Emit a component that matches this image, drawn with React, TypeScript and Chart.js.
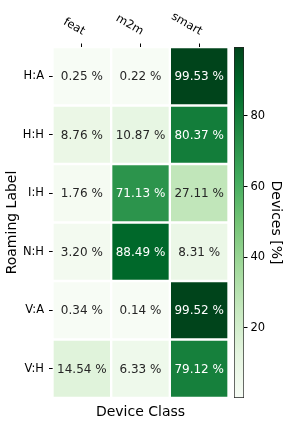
import { useEffect, useRef } from "react";
import { Chart, registerables } from "chart.js";

Chart.register(...registerables);

const rowLabels = ["H:A", "H:H", "I:H", "N:H", "V:A", "V:H"];
const colLabels = ["feat", "m2m", "smart"];
const featValues = [0.25, 8.76, 1.76, 3.2, 0.34, 14.54];
const m2mValues = [0.22, 10.87, 71.13, 88.49, 0.14, 6.33];
const smartValues = [99.53, 80.37, 27.11, 8.31, 99.52, 79.12];
const colorbarTicks = [20, 40, 60, 80];
const xTitle = "Device Class";
const yTitle = "Roaming Label";
const cbarTitle = "Devices [%]";

const columns = [featValues, m2mValues, smartValues];
const allValues = columns.flat();
const vmin = Math.min(...allValues);
const vmax = Math.max(...allValues);

const FONT = "'DejaVu Sans', sans-serif";
const GREENS = [
  [247, 252, 245],
  [229, 245, 224],
  [199, 233, 192],
  [161, 217, 155],
  [116, 196, 118],
  [65, 171, 93],
  [35, 139, 69],
  [0, 109, 44],
  [0, 68, 27],
];

function greensRGB(t: number): number[] {
  const c = Math.max(0, Math.min(1, t)) * (GREENS.length - 1);
  const i = Math.min(Math.floor(c), GREENS.length - 2);
  const f = c - i;
  return GREENS[i].map((a, k) => a + (GREENS[i + 1][k] - a) * f);
}
function colorFor(v: number): string {
  const [r, g, b] = greensRGB((v - vmin) / (vmax - vmin));
  return `rgb(${Math.round(r)},${Math.round(g)},${Math.round(b)})`;
}
function luminance(v: number): number {
  const rgb = greensRGB((v - vmin) / (vmax - vmin)).map((x) => {
    const c = x / 255;
    return c <= 0.03928 ? c / 12.92 : Math.pow((c + 0.055) / 1.055, 2.4);
  });
  return 0.2126 * rgb[0] + 0.7152 * rgb[1] + 0.0722 * rgb[2];
}

const cellTextPlugin = {
  id: "cellText",
  afterDatasetsDraw(chart: any) {
    const ctx = chart.ctx;
    ctx.save();
    ctx.font = `12px ${FONT}`;
    ctx.textAlign = "center";
    ctx.textBaseline = "middle";
    chart.data.datasets.forEach((ds: any, j: number) => {
      const meta = chart.getDatasetMeta(j);
      meta.data.forEach((el: any, i: number) => {
        const v = columns[j][i];
        const p = el.getCenterPoint();
        ctx.fillStyle = luminance(v) > 0.408 ? "#262626" : "#ffffff";
        ctx.fillText(`${v.toFixed(2)} %`, p.x, p.y + 1);
      });
    });
    ctx.restore();
  },
};

const topLabelsPlugin = {
  id: "topLabels",
  afterDraw(chart: any) {
    const xs = chart.scales.x;
    const ctx = chart.ctx;
    ctx.save();
    ctx.font = `11.5px ${FONT}`;
    ctx.fillStyle = "#000";
    ctx.textAlign = "right";
    ctx.textBaseline = "middle";
    colLabels.forEach((lab, i) => {
      const px = xs.getPixelForValue(i + 0.5);
      ctx.save();
      ctx.translate(px + 2, 32.5);
      ctx.rotate(Math.PI / 6);
      ctx.fillText(lab, 0, 0);
      ctx.restore();
    });
    ctx.restore();
  },
};

export default function App() {
  const heatRef = useRef<HTMLCanvasElement>(null);
  const cbarRef = useRef<HTMLCanvasElement>(null);

  useEffect(() => {
    const heat = new Chart(heatRef.current as HTMLCanvasElement, {
      type: "bar",
      data: {
        labels: rowLabels,
        datasets: columns.map((vals, j) => ({
          label: colLabels[j],
          data: vals.map(() => [j, j + 1]),
          backgroundColor: vals.map((v) => colorFor(v)),
          borderColor: "#ffffff",
          borderWidth: 1.5,
          borderSkipped: false,
          grouped: false,
          barPercentage: 1,
          categoryPercentage: 1,
        })) as any,
      },
      options: {
        indexAxis: "y",
        responsive: false,
        animation: false,
        events: [],
        layout: { padding: { left: 0, right: 3.5, top: 0, bottom: 0 } },
        plugins: {
          legend: { display: false },
          tooltip: { enabled: false },
        },
        scales: {
          x: {
            type: "linear",
            position: "top",
            min: 0,
            max: 3,
            afterBuildTicks: (s: any) => {
              s.ticks = colLabels.map((_, i) => ({ value: i + 0.5 }));
            },
            afterFit: (s: any) => {
              s.height = 47;
            },
            ticks: { display: false },
            grid: { drawOnChartArea: false, drawTicks: true, tickLength: 3.5, color: "#000", lineWidth: 1 },
            border: { display: false },
          },
          xTitleAxis: {
            type: "linear",
            axis: "x",
            position: "bottom",
            min: 0,
            max: 3,
            afterFit: (s: any) => {
              s.height = 34;
            },
            ticks: { display: false },
            grid: { display: false },
            border: { display: false },
            title: {
              display: true,
              text: xTitle,
              color: "#000",
              font: { family: FONT, size: 14 },
              padding: { top: 0, bottom: 11.6 },
            },
          },
          y: {
            type: "category",
            position: "left",
            afterFit: (s: any) => {
              s.width = 52.5;
            },
            ticks: { color: "#000", font: { family: FONT, size: 11.5 }, padding: 5 },
            grid: { offset: false, drawOnChartArea: false, drawTicks: true, tickLength: 3.5, color: "#000", lineWidth: 1 },
            border: { display: false },
            title: {
              display: true,
              text: yTitle,
              color: "#000",
              font: { family: FONT, size: 14 },
              padding: { top: 4, bottom: 0 },
            },
          },
        },
      } as any,
      plugins: [cellTextPlugin, topLabelsPlugin],
    });

    const cbar = new Chart(cbarRef.current as HTMLCanvasElement, {
      type: "bar",
      data: {
        labels: [""],
        datasets: [
          {
            data: [[vmin, vmax]] as any,
            backgroundColor: (c: any) => {
              const chart = c.chart;
              const ys = chart.scales.y;
              if (!chart.chartArea || !ys) return "transparent";
              const y0 = ys.getPixelForValue(vmin);
              const y1 = ys.getPixelForValue(vmax);
              const g = chart.ctx.createLinearGradient(0, y0, 0, y1);
              GREENS.forEach((col, k) => {
                g.addColorStop(k / (GREENS.length - 1), `rgb(${col[0]},${col[1]},${col[2]})`);
              });
              return g;
            },
            borderColor: "#222",
            borderWidth: 1,
            borderSkipped: false,
            barPercentage: 1,
            categoryPercentage: 1,
          },
        ],
      },
      options: {
        responsive: false,
        animation: false,
        events: [],
        layout: { padding: { left: 6, right: 0, top: 47, bottom: 34 } },
        plugins: { legend: { display: false }, tooltip: { enabled: false } },
        scales: {
          x: { display: false },
          y: {
            position: "right",
            min: vmin,
            max: vmax,
            afterBuildTicks: (s: any) => {
              s.ticks = colorbarTicks.map((v) => ({ value: v }));
            },
            afterFit: (s: any) => {
              s.width = 44;
            },
            ticks: { color: "#000", font: { family: FONT, size: 11.5 }, padding: 3 },
            grid: { drawOnChartArea: false, drawTicks: true, tickLength: 3.5, color: "#000", lineWidth: 1 },
            border: { display: false },
            title: {
              display: true,
              text: cbarTitle,
              color: "#000",
              font: { family: FONT, size: 14 },
              padding: { top: 4, bottom: 0 },
            },
          },
        },
      } as any,
    });

    return () => {
      heat.destroy();
      cbar.destroy();
    };
  }, []);

  return (
    <div style={{ position: "fixed", left: 0, top: 0, width: 288, height: 432, background: "#fff" }}>
      <canvas ref={heatRef} width={232} height={432} style={{ position: "absolute", left: 0, top: 0, width: 232, height: 432 }} />
      <canvas ref={cbarRef} width={60} height={432} style={{ position: "absolute", left: 228, top: 0, width: 60, height: 432 }} />
    </div>
  );
}
